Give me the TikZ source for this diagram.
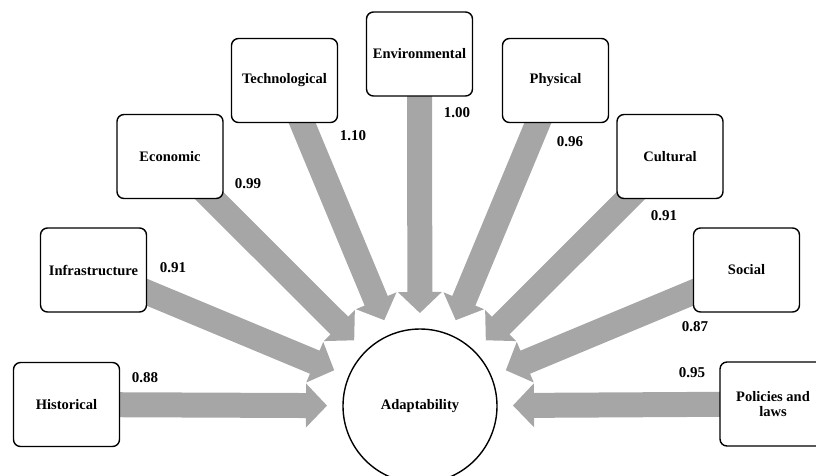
\documentclass[tikz,border=0pt]{standalone}
\usepackage{fontspec}
\setmainfont{Liberation Serif}
\usetikzlibrary{calc,backgrounds}
\definecolor{arrowgray}{RGB}{166,166,166}
\tikzset{
  factor/.style={draw, line width=1.4pt, rounded corners=7pt, fill=white,
    minimum width=106pt, minimum height=84pt, inner sep=2pt, align=center,
    font=\fontsize{14.5}{15}\selectfont\bfseries},
  target/.style={draw, circle, line width=1.4pt, fill=white, minimum size=154pt,
    inner sep=0pt, font=\fontsize{14.5}{15}\selectfont\bfseries},
  weight/.style={font=\fontsize{15}{16}\selectfont\bfseries, inner sep=0pt},
  arrowfill/.style={fill=arrowgray}
}
\newcommand\flowarrow[1]{%
  \path ($(adapt.center)!114pt!(#1.center)$) coordinate (hb);
  \fill[arrowfill] ($(adapt.center)!93pt!(#1.center)$)
    -- ($(hb)!22pt!90:(#1.center)$)
    -- ($(hb)!12.5pt!90:(#1.center)$)
    -- ($(#1.center)!12.5pt!-90:(adapt.center)$)
    -- ($(#1.center)!12.5pt!90:(adapt.center)$)
    -- ($(hb)!12.5pt!-90:(#1.center)$)
    -- ($(hb)!22pt!-90:(#1.center)$) -- cycle;}
\begin{document}
\begin{tikzpicture}[x=1pt,y=1pt]
\useasboundingbox (0,0) rectangle (816,-475);
\node[target] (adapt) at (420,-406) {Adaptability};
\node[factor] (hist)  at (66.5,-404.5) {Historical};
\node[factor] (infra) at (93.5,-270) {Infrastructure};
\node[factor] (econ)  at (170,-156.5) {Economic};
\node[factor] (tech)  at (284.5,-80.5) {Technological};
\node[factor] (env)   at (419.5,-54) {Environmental};
\node[factor] (phys)  at (555.5,-80.5) {Physical};
\node[factor] (cult)  at (670,-156.5) {Cultural};
\node[factor] (soc)   at (746.5,-270) {Social};
\node[factor] (pol)   at (773,-404) {Policies and\\laws};
\begin{pgfonlayer}{background}
\flowarrow{hist}
\flowarrow{infra}
\flowarrow{econ}
\flowarrow{tech}
\flowarrow{env}
\flowarrow{phys}
\flowarrow{cult}
\flowarrow{soc}
\flowarrow{pol}
\end{pgfonlayer}
\node[weight] (w1) at (145,-378) {0.88};
\node[weight] (w2) at (173,-268) {0.91};
\node[weight] (w3) at (248,-184) {0.99};
\node[weight] (w4) at (353,-136) {1.10};
\node[weight] (w5) at (457,-113) {1.00};
\node[weight] (w6) at (570,-142) {0.96};
\node[weight] (w7) at (664,-216) {0.91};
\node[weight] (w8) at (695,-327) {0.87};
\node[weight] (w9) at (692,-373) {0.95};
\end{tikzpicture}
\end{document}
